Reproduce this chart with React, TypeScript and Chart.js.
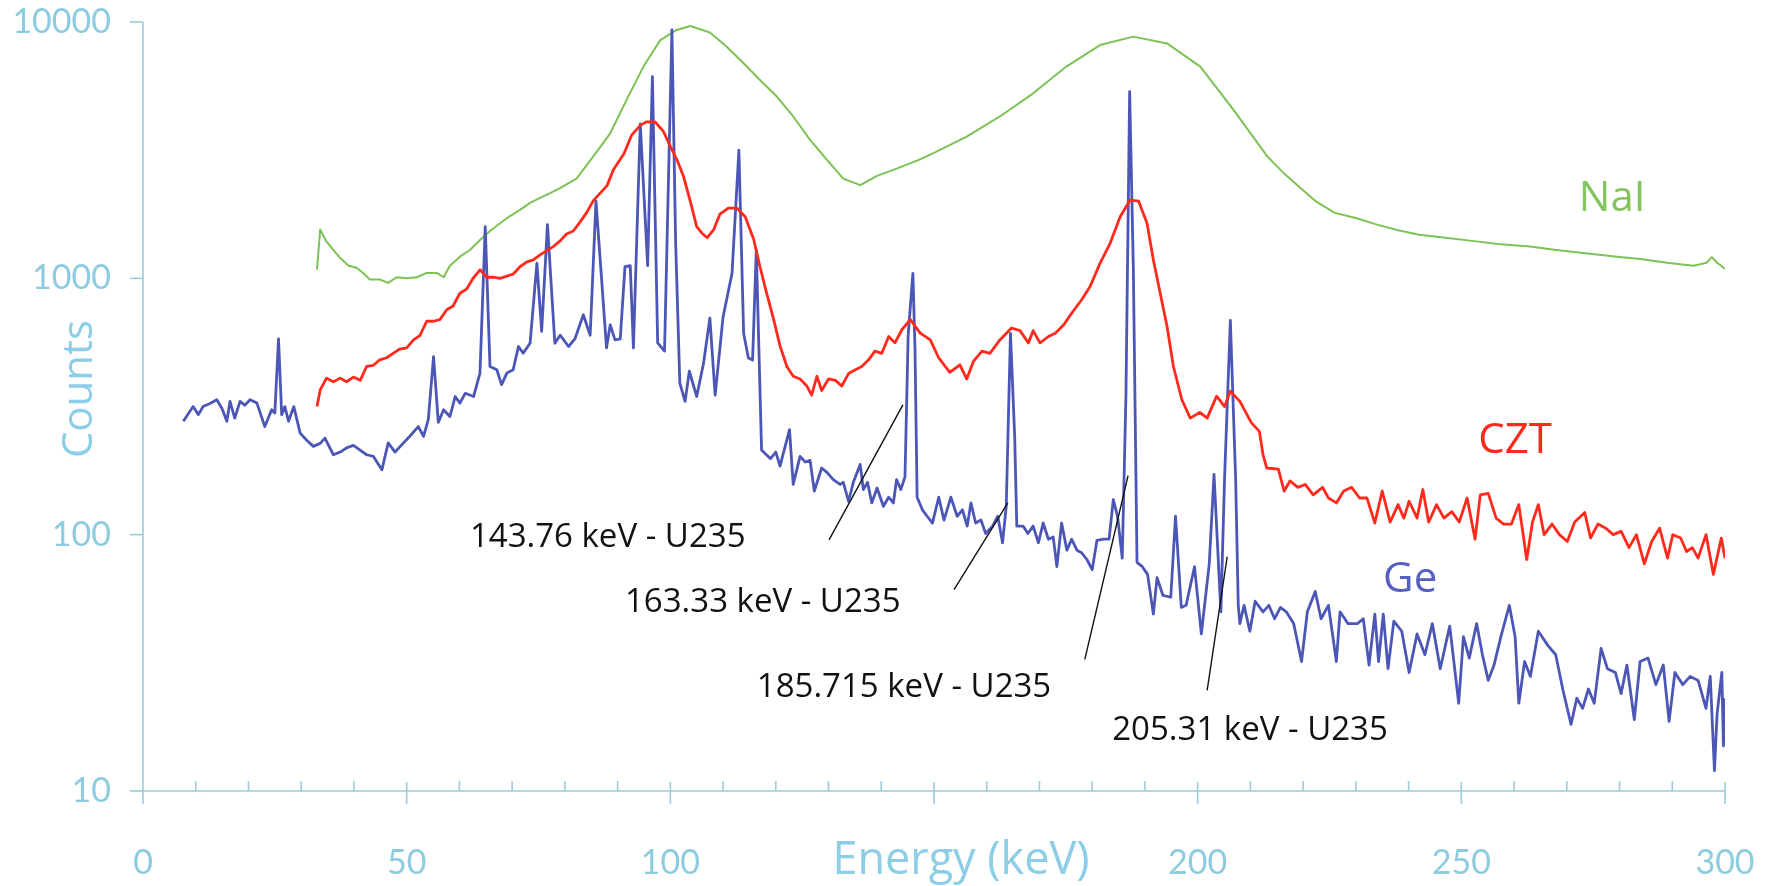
import React, { useEffect, useRef } from "react";
import { Chart, registerables } from "chart.js";

Chart.register(...registerables);

// ---------------- DATA ----------------
const naiEnergy = [
  33.0, 33.6, 34.8, 36.1, 37.4, 39.0, 40.5, 41.8, 43.0, 44.9, 46.5, 48.1, 50.0, 51.9, 53.8, 55.7, 57.0, 58.2,
  60.1, 62.0, 63.9, 65.8, 67.7, 69.6, 71.5, 73.4, 75.3, 77.2, 79.1, 82.2, 85.4, 88.6, 91.7, 94.9, 98.1, 101.2,
  103.8, 107.5, 110.7, 113.9, 117.0, 120.2, 123.3, 126.5, 129.7, 132.8, 136.0, 139.2, 142.3, 146.8, 149.9,
  156.2, 162.5, 168.8, 175.1, 181.5, 187.8, 194.2, 200.5, 206.8, 213.2, 216.5, 219.5, 222.5, 226.0, 230.0,
  234.0, 238.0, 242.0, 247.0, 252.0, 257.0, 263.0, 268.0, 274.0, 279.5, 284.0, 289.0, 294.0, 296.5, 297.5,
  298.5, 300.0,
];
const naiCounts = [
  1080, 1550, 1390, 1290, 1200, 1120, 1100, 1046, 990, 990, 960, 1010, 1000, 1010, 1050, 1050, 1010, 1120,
  1215, 1290, 1410, 1530, 1640, 1750, 1850, 1970, 2060, 2150, 2250, 2450, 2990, 3680, 4970, 6700, 8500, 9310,
  9650, 9100, 8010, 6900, 5940, 5120, 4280, 3470, 2900, 2450, 2310, 2510, 2650, 2880, 3080,
  3570, 4280, 5270, 6700, 8130, 8770, 8250, 6700, 4540, 2990, 2550, 2250, 1990, 1800, 1720,
  1620, 1540, 1480, 1440, 1400, 1360, 1330, 1290, 1250, 1215, 1190, 1150, 1120, 1150, 1210,
  1150, 1090,
];

const cztEnergy = [
  33.0, 33.6, 34.8, 36.1, 37.4, 38.6, 39.9, 41.2, 42.4, 43.7, 44.9, 46.2, 47.5, 48.7, 50.0, 51.3, 52.5, 53.8,
  55.1, 56.3, 57.6, 58.8, 60.1, 61.4, 62.6, 63.9, 65.2, 66.4, 67.7, 69.0, 70.2, 71.5, 72.8, 74.0, 75.3, 76.5,
  77.8, 79.1, 80.3, 81.6, 82.9, 84.1, 85.4, 86.7, 88.0, 89.2, 91.2, 92.7, 94.3, 95.5, 97.1, 98.7, 100.0, 101.2,
  102.5, 103.8, 105.0, 106.0, 107.0, 108.2, 109.4, 111.0, 112.6, 114.2, 115.8, 117.0, 118.3, 119.6, 120.8,
  122.1, 123.3, 124.6, 125.9, 126.8, 127.8, 128.7, 130.0, 131.3, 132.5, 133.8, 135.1, 136.3, 137.6, 138.8,
  140.1, 141.4, 142.6, 143.9, 145.5, 147.4, 149.3, 150.9, 153.0, 154.9, 156.2, 157.5, 159.1, 160.6, 162.5,
  164.7, 166.3, 167.9, 168.8, 170.1, 171.7, 173.0, 174.6, 176.1, 178.0, 179.6, 181.5, 183.4, 185.3, 187.2,
  188.8, 190.4, 191.6, 192.9, 194.2, 195.4, 197.0, 198.6, 200.4, 201.8, 203.6, 205.1, 206.2, 208.0, 210.2,
  211.7, 212.4, 213.1, 215.3, 216.4, 217.5, 219.0, 220.4, 221.9, 223.7, 224.8, 226.3, 227.7, 229.2, 230.7,
  232.1, 233.6, 235.0, 236.5, 238.0, 239.1, 240.1, 241.6, 242.7, 243.8, 245.3, 246.7, 248.2, 249.6, 251.1,
  252.6, 253.6, 255.1, 256.6, 258.0, 259.5, 260.9, 262.4, 263.5, 264.6, 265.7, 267.2, 268.6, 270.1, 271.5,
  273.4, 274.5, 275.9, 277.4, 278.8, 280.3, 281.8, 283.2, 284.7, 286.1, 287.6, 289.1, 290.1, 291.6, 292.7,
  293.8, 294.9, 296.4, 297.8, 299.3, 300.0,
];
const cztCounts = [
  316, 367, 408, 395, 408, 395, 412, 400, 453, 458, 481, 490, 511, 530, 535, 575, 598, 680,
  680, 690, 754, 780, 875, 910, 1000, 1080, 1010, 1010, 1000, 1020, 1040, 1110, 1160, 1180, 1235, 1280,
  1330, 1400, 1490, 1530, 1660, 1800, 2010, 2150, 2300, 2650, 3060, 3630, 3950, 4080, 4080, 3740, 3270, 2920,
  2500, 1990, 1590, 1500, 1440, 1545, 1780, 1880, 1880, 1740, 1420, 1110, 870, 690, 545,
  453, 415, 405, 380, 350, 415, 365, 405, 400, 380, 425, 440, 453, 481, 520,
  510, 593, 560, 630, 690, 611, 575, 489, 430, 460, 405, 475, 520, 510, 575,
  640, 625, 560, 625, 560, 593, 611, 659, 731, 825, 929, 1146, 1370, 1740, 2020,
  2000, 1640, 1180, 875, 649, 453, 336, 285, 300, 285, 347, 316, 363, 331, 273,
  253, 205, 182, 180, 148, 162, 153, 157, 143, 153, 139, 133, 148, 153, 139,
  139, 111, 148, 112, 131, 116, 135, 116, 150, 112, 131, 116, 123, 112, 139,
  96, 143, 145, 116, 110, 110, 131, 80, 112, 131, 100, 110, 100, 94, 112,
  122, 97, 110, 106, 100, 103, 89, 100, 77, 94, 106, 81, 100, 97, 86,
  89, 81, 100, 70, 97, 81,
];

const geEnergy = [
  7.65, 9.5, 10.5, 11.4, 12.7, 14.0, 15.0, 15.9, 16.5, 17.4, 18.4, 19.3, 20.3, 21.6, 23.1, 24.4, 25.0, 25.7,
  26.3, 26.9, 27.6, 28.6, 29.8, 31.0, 32.3, 33.6, 34.5, 36.1, 37.4, 38.6, 39.9, 41.1, 42.4, 43.7, 45.3, 46.5,
  47.8, 49.4, 50.6, 52.2, 53.2, 54.1, 55.1, 56.0, 57.0, 58.2, 59.2, 60.1, 61.1, 62.7, 63.9, 64.9, 65.8, 67.1,
  68.0, 69.0, 70.2, 71.2, 72.1, 73.4, 74.7, 75.6, 76.7, 78.1, 79.1, 80.7, 81.9, 83.5, 84.8, 85.9, 87.9, 88.6,
  89.5, 90.5, 91.4, 92.4, 93.0, 94.3, 95.7, 96.6, 97.6, 98.9, 100.3, 101.0, 101.8, 102.8, 103.6, 105.0, 106.3,
  107.5, 108.5, 110.0, 111.7, 113.0, 113.9, 114.8, 115.6, 116.3, 117.3, 118.2, 119.0, 120.0, 120.8, 122.6,
  123.3, 124.6, 125.6, 126.5, 127.3, 128.7, 129.7, 130.9, 132.2, 132.8, 133.8, 134.7, 136.0, 136.6, 137.4,
  138.2, 139.2, 140.4, 141.4, 142.3, 142.9, 143.7, 144.5, 145.1, 146.0, 146.4, 146.8, 147.8, 148.7, 149.7,
  150.9, 151.9, 153.2, 154.4, 155.4, 156.3, 157.0, 157.9, 158.9, 159.8, 161.1, 162.1, 163.0, 163.7, 164.5,
  165.3, 165.7, 166.9, 167.8, 168.8, 169.8, 170.7, 171.7, 172.6, 173.3, 174.2, 175.2, 176.1, 177.1, 178.0,
  179.0, 180.0, 180.9, 182.2, 183.2, 184.0, 184.8, 185.7, 186.4, 187.1, 187.8, 188.5, 189.5, 190.5, 191.6,
  192.3, 193.4, 194.9, 195.8, 196.9, 197.8, 199.4, 200.7, 202.2, 203.1, 204.4, 205.1, 206.2, 207.2, 207.7,
  208.0, 208.8, 209.9, 210.9, 212.4, 213.5, 214.6, 215.7, 216.8, 218.2, 219.7, 220.8, 222.3, 223.4, 224.8,
  226.3, 227.0, 228.5, 230.3, 231.4, 232.5, 233.6, 234.3, 235.2, 236.1, 237.2, 238.7, 240.1, 241.6, 243.1,
  244.5, 246.0, 247.8, 249.5, 250.4, 251.5, 252.9, 254.0, 255.1, 256.2, 257.5, 259.1, 260.2, 260.9, 262.0,
  263.1, 264.6, 266.4, 267.9, 269.3, 270.8, 271.9, 273.0, 274.1, 275.2, 276.5, 277.7, 279.2, 280.3, 281.4,
  282.8, 283.9, 285.4, 286.9, 288.3, 289.4, 290.5, 292.0, 293.4, 294.9, 296.4, 297.2, 298.0, 298.5, 299.4,
  299.7, 300.0,
];
const geCounts = [
  277, 316, 294, 316, 325, 336, 310, 277, 331, 285, 331, 320, 336, 326, 264, 307, 298, 580,
  294, 316, 277, 316, 249, 234, 221, 227, 238, 205, 210, 218, 223, 214, 205, 202, 179, 228,
  210, 228, 242, 264, 242, 281, 495, 274, 307, 289, 346, 326, 356, 346, 427, 1590, 453, 440,
  385, 427, 440, 542, 511, 558, 1146, 621, 1620, 558, 600, 542, 580, 721, 600, 2000, 535, 659,
  575, 580, 1110, 1120, 535, 4000, 1120, 6120, 560, 520, 9320, 1400, 390, 331, 434, 346, 467,
  700, 350, 707, 1046, 3160, 611, 489, 480, 1290, 214, 205, 198, 210, 185, 257,
  157, 202, 192, 195, 148, 182, 175, 164, 157, 160, 135, 160, 188, 150, 160,
  133, 152, 129, 140, 133, 164, 150, 168, 600, 1046, 525, 140, 125, 118, 111,
  140, 114, 140, 118, 125, 108, 133, 111, 114, 101, 108, 118, 93, 129, 610,
  242, 108, 108, 101, 108, 93, 111, 96, 98, 75, 111, 87, 96, 87, 85,
  80, 73, 95, 96, 96, 137, 118, 81, 350, 5350, 1100, 78, 75, 70, 49,
  68, 58, 57, 118, 52, 53, 75, 41, 77, 172, 50, 166, 685, 166, 53,
  45, 53, 42, 55, 50, 53, 47, 52, 50, 45, 32, 50, 60, 47, 53,
  32, 50, 45, 45, 47, 31, 49, 32, 49, 30, 46, 42, 29, 41, 34,
  45, 30, 44, 22, 40, 33, 45, 34, 27, 31, 40, 53, 40, 22, 32,
  28, 42, 37, 34, 24.6, 18.2, 23, 21, 25, 22, 36, 30, 29, 24, 31,
  19, 32, 33, 26, 31, 18.7, 29, 26, 28, 27, 21, 28, 12, 20, 29,
  15, 23,
];

const seriesNames = ["NaI", "CZT", "Ge"];
const xTicks = [0, 50, 100, 150, 200, 250, 300];
const xHiddenLabels = [150];
const xMinorStep = 10;
const yTicks = [10, 100, 1000, 10000];
const xTitle = "Energy (keV)";
const yTitle = "Counts";
const peakNotes = [
  "143.76 keV - U235",
  "163.33 keV - U235",
  "185.715 keV - U235",
  "205.31 keV - U235",
];

// ---------------- LAYOUT / STYLE ----------------
const W = 1776;
const H = 886;
const COLORS = { NaI: "#7cc255", CZT: "#ff2a1c", Ge: "#4c56b6" };
const LABEL_COLORS = { NaI: "#84c45c", CZT: "#ff2a1c", Ge: "#5660c0" };
const AXIS_COLOR = "#9ccbdb";
const TICK_COLOR = "#8ccbe0";
const TITLE_COLOR = "#8ccde8";

// label anchors (data coordinates: energy, counts)
const labelAnchors = {
  NaI: [278.6, 2040],
  CZT: [260.2, 232],
  Ge: [240.3, 66.8],
};
// note text anchors (left edge, vertical centre) and leader lines, in data coordinates
const noteTextAnchors = [
  [62.0, 97],
  [91.4, 54.5],
  [116.4, 25.3],
  [183.8, 17.2],
];
const noteLeaders = [
  [130.1, 95.5, 144.1, 321],
  [153.8, 61, 164.0, 133],
  [178.6, 32.6, 186.8, 170],
  [201.8, 24.7, 205.6, 82],
];

function toPoints(xs: number[], ys: number[]) {
  return xs.map((x, i) => ({ x, y: ys[i] }));
}

const decorPlugin = {
  id: "decor",
  beforeDatasetsDraw(chart: any) {
    const { ctx } = chart;
    const xs = chart.scales.x;
    const ys = chart.scales.y;
    const x0 = xs.getPixelForValue(0);
    const x1 = xs.getPixelForValue(300);
    const yb = ys.getPixelForValue(10);
    const yt = ys.getPixelForValue(10000);
    ctx.save();
    ctx.strokeStyle = AXIS_COLOR;
    ctx.lineWidth = 1.6;
    ctx.lineCap = "butt";
    const seg = (a: number, b: number, c: number, d: number) => {
      ctx.beginPath();
      ctx.moveTo(a, b);
      ctx.lineTo(c, d);
      ctx.stroke();
    };
    seg(x0, yt, x0, yb + 13);
    seg(x0, yb, x1, yb);
    for (let v = xMinorStep; v < 300; v += xMinorStep) {
      if (v % 50 === 0) continue;
      const px = xs.getPixelForValue(v);
      seg(px, yb, px, yb - 10);
    }
    for (const v of xTicks) {
      if (v === 0) continue;
      const px = xs.getPixelForValue(v);
      seg(px, yb - 9, px, yb + 13);
    }
    for (const v of yTicks) {
      const py = ys.getPixelForValue(v);
      seg(x0 - 13, py, x0, py);
    }
    ctx.restore();
  },
  afterDatasetsDraw(chart: any) {
    const { ctx } = chart;
    const xs = chart.scales.x;
    const ys = chart.scales.y;
    const area = chart.chartArea;
    ctx.save();
    // series labels
    ctx.font = '42px "Open Sans"';
    ctx.textAlign = "center";
    ctx.textBaseline = "middle";
    for (const name of seriesNames) {
      const [e, c] = (labelAnchors as any)[name];
      ctx.fillStyle = (LABEL_COLORS as any)[name];
      ctx.fillText(name, xs.getPixelForValue(e), ys.getPixelForValue(c));
    }
    // peak notes
    ctx.strokeStyle = "#111";
    ctx.lineWidth = 1.4;
    for (const [a, b, c, d] of noteLeaders) {
      ctx.beginPath();
      ctx.moveTo(xs.getPixelForValue(a), ys.getPixelForValue(b));
      ctx.lineTo(xs.getPixelForValue(c), ys.getPixelForValue(d));
      ctx.stroke();
    }
    ctx.fillStyle = "#111";
    ctx.font = '33px "Open Sans"';
    ctx.textAlign = "left";
    peakNotes.forEach((t, i) => {
      const [e, c] = noteTextAnchors[i];
      ctx.fillText(t, xs.getPixelForValue(e), ys.getPixelForValue(c));
    });
    // axis titles
    ctx.fillStyle = TITLE_COLOR;
    ctx.font = '45px "Open Sans"';
    ctx.textAlign = "center";
    ctx.fillText(xTitle, 961, 861);
    ctx.font = '42px "Open Sans"';
    ctx.translate(80, area.top + 367);
    ctx.rotate(-Math.PI / 2);
    ctx.fillText(yTitle, 0, 0);
    ctx.restore();
  },
};

export default function App() {
  const ref = useRef<HTMLCanvasElement | null>(null);
  useEffect(() => {
    if (!ref.current) return;
    const chart = new Chart(ref.current, {
      type: "line",
      data: {
        datasets: [
          {
            label: "CZT",
            data: toPoints(cztEnergy, cztCounts),
            borderColor: COLORS.CZT,
            borderWidth: 2.8,
            pointRadius: 0,
            tension: 0,
            order: 0,
          },
          {
            label: "Ge",
            data: toPoints(geEnergy, geCounts),
            borderColor: COLORS.Ge,
            borderWidth: 2.8,
            pointRadius: 0,
            tension: 0,
            order: 1,
          },
          {
            label: "NaI",
            data: toPoints(naiEnergy, naiCounts),
            borderColor: COLORS.NaI,
            borderWidth: 2,
            pointRadius: 0,
            tension: 0,
            order: 2,
          },
        ],
      },
      options: {
        animation: false,
        responsive: false,
        devicePixelRatio: 1,
        layout: { padding: { top: 22, right: 51, left: 0, bottom: 0 } },
        plugins: {
          legend: { display: false },
          tooltip: { enabled: false },
        },
        elements: { line: { borderJoinStyle: "round" } },
        scales: {
          x: {
            type: "linear",
            min: 0,
            max: 300,
            grid: { display: false },
            border: { display: false },
            afterBuildTicks: (s: any) => {
              s.ticks = xTicks.map((v) => ({ value: v }));
            },
            afterFit: (s: any) => {
              s.height = 95;
              s.paddingLeft = 0;
              s.paddingRight = 0;
            },
            ticks: {
              color: TICK_COLOR,
              font: { family: "Lato", size: 34 },
              padding: 44,
              maxRotation: 0,
              autoSkip: false,
              callback: (v: any) => (xHiddenLabels.includes(Number(v)) ? "" : String(v)),
            },
          },
          y: {
            type: "logarithmic",
            min: 10,
            max: 10000,
            grid: { display: false },
            border: { display: false },
            afterBuildTicks: (s: any) => {
              s.ticks = yTicks.map((v) => ({ value: v }));
            },
            afterFit: (s: any) => {
              s.width = 143;
              s.paddingTop = 0;
              s.paddingBottom = 0;
            },
            ticks: {
              color: TICK_COLOR,
              font: { family: "Lato", size: 34 },
              padding: 24,
              autoSkip: false,
              callback: (v: any) => String(v),
            },
          },
        },
      },
      plugins: [decorPlugin],
    });
    return () => chart.destroy();
  }, []);
  return (
    <div style={{ position: "absolute", left: 0, top: 0, width: W, height: H, background: "#fff" }}>
      <canvas ref={ref} width={W} height={H} style={{ width: W, height: H, display: "block" }} />
    </div>
  );
}
